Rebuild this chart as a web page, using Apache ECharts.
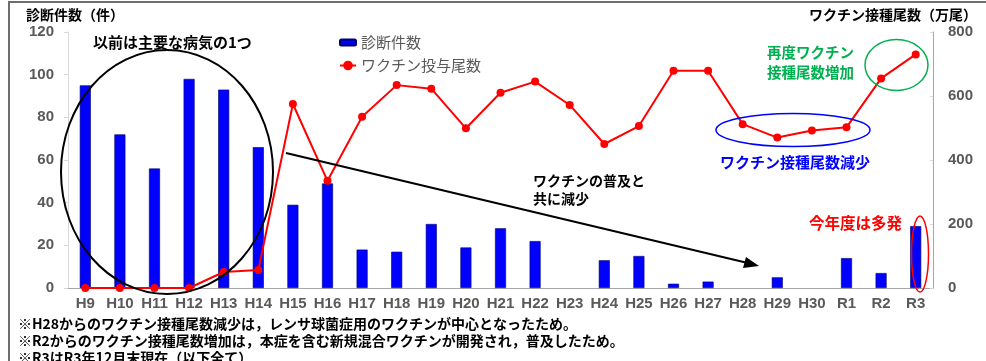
<!DOCTYPE html>
<html>
<head>
<meta charset="utf-8">
<script src="https://cdn.jsdelivr.net/npm/echarts@6/dist/echarts.min.js"></script>
<style>
html,body{margin:0;padding:0;background:#fff;}
#c{width:986px;height:361px;}
</style>
</head>
<body>
<div id="c"></div>
<script>
const categories = ['H9','H10','H11','H12','H13','H14','H15','H16','H17','H18','H19','H20','H21','H22','H23','H24','H25','H26','H27','H28','H29','H30','R1','R2','R3'];
const diagnoses = [95,72,56,98,93,66,39,49,18,17,30,19,28,22,0,13,15,2,3,0,5,0,14,7,29];
const vaccines = [0,0,0,0,50,56,575,335,535,634,623,499,610,645,572,450,506,679,679,512,470,492,502,655,730];
const leftTicks = {min:0, max:120, interval:20};
const rightTicks = {min:0, max:800, interval:200};

const JP = '"Noto Sans CJK JP", "Liberation Sans", sans-serif';
const AR = '"Liberation Sans", Arial, sans-serif';
const chart = echarts.init(document.getElementById('c'));

function txt(x, y, text, color, size, align) {
  return {type:'text', x:x, y:y, style:{text:text, fill:color, font:'bold '+size+'px '+JP, textAlign:align||'left', textVerticalAlign:'middle'}, z:20};
}

const barData = diagnoses.map(v => v === 0 ? {value:v, itemStyle:{borderWidth:0}} : v);

chart.setOption({
  animation:false,
  grid:{left:68, right:53, top:32, bottom:73, containLabel:false},
  legend:[
    {data:[{name:'診断件数'}], left:334, top:30, itemWidth:16, itemHeight:6, itemGap:4,
     textStyle:{fontFamily:JP, fontSize:15, color:'#595959'}},
    {data:[{name:'ワクチン投与尾数'}], left:334, top:53, itemWidth:16, itemHeight:12, itemGap:4,
     textStyle:{fontFamily:JP, fontSize:15, color:'#595959'}}
  ],
  xAxis:{type:'category', data:categories,
    axisLine:{lineStyle:{color:'#a6a6a6', width:1}},
    axisTick:{show:false},
    axisLabel:{color:'#595959', fontFamily:AR, fontWeight:'bold', fontSize:15, margin:8, interval:0}},
  yAxis:[
    {type:'value', min:leftTicks.min, max:leftTicks.max, interval:leftTicks.interval, position:'left',
     axisLine:{show:true, lineStyle:{color:'#d9d9d9'}},
     axisTick:{show:true, length:4, lineStyle:{color:'#d9d9d9'}},
     splitLine:{show:false},
     axisLabel:{color:'#595959', fontFamily:AR, fontWeight:'bold', fontSize:15, margin:14}},
    {type:'value', min:rightTicks.min, max:rightTicks.max, interval:rightTicks.interval, position:'right',
     axisLine:{show:true, lineStyle:{color:'#a6a6a6'}},
     axisTick:{show:true, inside:true, length:3, lineStyle:{color:'#d9d9d9'}},
     splitLine:{show:false},
     axisLabel:{color:'#595959', fontFamily:AR, fontWeight:'bold', fontSize:15, margin:15}}
  ],
  series:[
    {name:'診断件数', type:'bar', yAxisIndex:0, data:barData, barWidth:11,
     itemStyle:{color:'#0000ff', borderColor:'#000066', borderWidth:0.6}, z:2},
    {name:'ワクチン投与尾数', type:'line', yAxisIndex:1, data:vaccines,
     symbol:'circle', symbolSize:8, lineStyle:{color:'#ff0000', width:2},
     itemStyle:{color:'#ff0000'}, z:5}
  ],
  graphic:[
    {type:'rect', shape:{x:9, y:2, width:1000, height:420}, style:{fill:'none', stroke:'#6e6e6e', lineWidth:2}, z:1},
    txt(26, 15, '診断件数（件）', '#000', 14),
    txt(977, 15, 'ワクチン接種尾数（万尾）', '#000', 14, 'right'),
    txt(93, 42, '以前は主要な病気の1つ', '#000', 15),
    {type:'ellipse', shape:{cx:167, cy:172, rx:106, ry:122}, style:{fill:'none', stroke:'#000', lineWidth:2}, z:20},
    {type:'line', shape:{x1:286, y1:153, x2:752, y2:264}, style:{stroke:'#000', lineWidth:2}, z:20},
    {type:'polygon', shape:{points:[[759,266],[746,257],[743,268]]}, style:{fill:'#000'}, z:20},
    txt(533, 181, 'ワクチンの普及と', '#000', 14),
    txt(533, 199, '共に減少', '#000', 14),
    {type:'ellipse', shape:{cx:793, cy:130, rx:77, ry:16.5}, style:{fill:'none', stroke:'#0000ff', lineWidth:1.5}, z:20},
    txt(795, 162, 'ワクチン接種尾数減少', '#0000ff', 15, 'center'),
    {type:'ellipse', shape:{cx:896.5, cy:65, rx:31.5, ry:25.5}, style:{fill:'none', stroke:'#00b050', lineWidth:1.5}, z:20},
    txt(767, 52, '再度ワクチン', '#00b050', 14.5),
    txt(767, 72, '接種尾数増加', '#00b050', 14.5),
    {type:'ellipse', shape:{cx:920, cy:254, rx:8.5, ry:38}, style:{fill:'none', stroke:'#ff0000', lineWidth:1.5}, z:20},
    txt(809, 223, '今年度は多発', '#ff0000', 15.5),
    txt(18, 324, '※H28からのワクチン接種尾数減少は，レンサ球菌症用のワクチンが中心となったため。', '#000', 14),
    txt(18, 341, '※R2からのワクチン接種尾数増加は，本症を含む新規混合ワクチンが開発され，普及したため。', '#000', 14),
    txt(18, 358, '※R3はR3年12月末現在（以下全て）', '#000', 14)
  ]
});
</script>
</body>
</html>
